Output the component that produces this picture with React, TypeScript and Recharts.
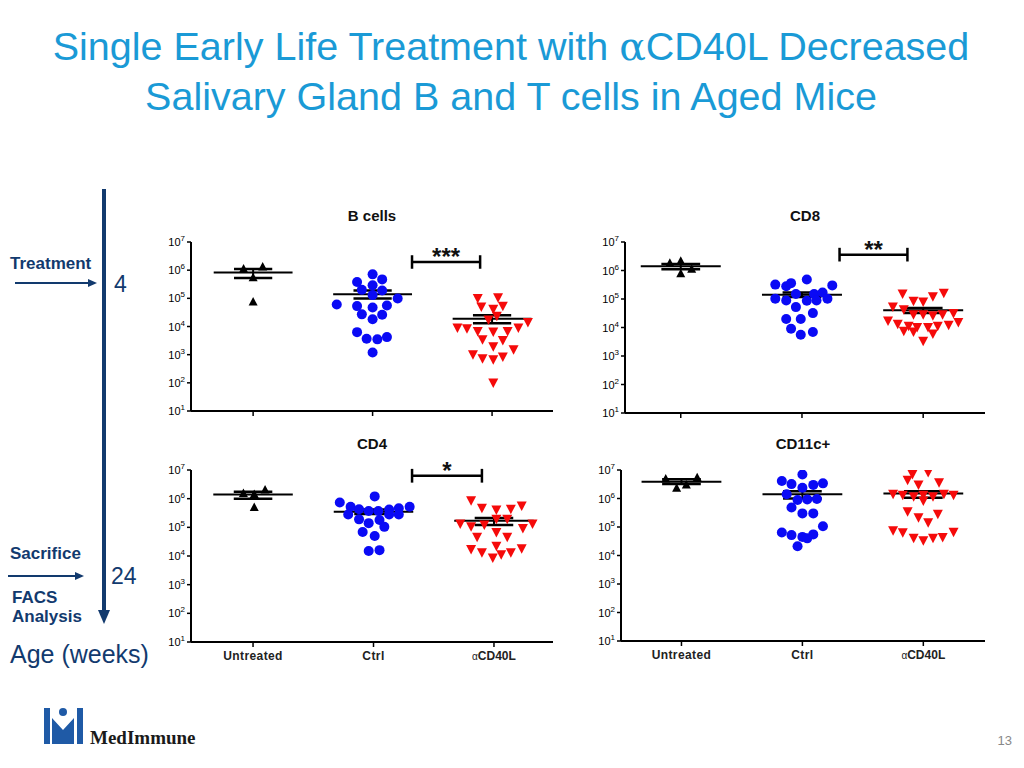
import React from 'react';
import { ScatterChart, Scatter, XAxis, YAxis, ReferenceLine } from 'recharts';

const FONT = 'Arial, "Liberation Sans", Helvetica, sans-serif';
const NAVY = '#123a6e';

const groups = ['Untreated', 'Ctrl', 'αCD40L'];
const yTicks = [10, 100, 1000, 1e4, 1e5, 1e6, 1e7];

// B cells
const bUntVals = [1.1e6, 1.3e6, 5.4e5, 7.4e4];
const bUntJit = [-0.08, 0.08, 0, 0];
const bCtrlVals = [7.1e5, 3.8e5, 2.9e5, 4.7e5, 2.0e5, 1.9e5, 9.8e4, 1.3e5, 6.0e4, 5.3e4, 4.7e4, 5.6e4, 2.7e4, 2.6e4, 1.8e4, 6.3e3, 3.7e3, 3.5e3, 4.2e3, 1.2e3];
const bCtrlJit = [0, -0.13, 0, 0.08, -0.09, 0.08, 0.21, 0, -0.3, -0.13, 0, 0.12, -0.09, 0.08, 0, -0.13, -0.05, 0.04, 0.12, 0];
const bAntiVals = [9.8e4, 1.05e5, 4.9e4, 5.2e4, 4.1e4, 2.3e4, 1.7e4, 8.9e3, 8.4e3, 6.7e3, 6.4e3, 6.7e3, 8.9e3, 1.4e4, 3.4e3, 3.2e3, 1.9e3, 1.5e3, 1.0e3, 720, 660, 830, 98];
const bAntiJit = [-0.12, 0.05, -0.09, 0.09, 0.01, 0.04, -0.03, -0.29, -0.21, -0.12, 0.01, 0.13, 0.22, 0.3, -0.08, 0.09, 0.01, 0.18, -0.16, -0.08, 0.01, 0.09, 0.01];
const bMean = [8.3e5, 1.4e5, 1.9e4];
const bSemLow = [5.3e5, 9.8e4, 1.3e4];
const bSemHigh = [1.1e6, 1.9e5, 2.5e4];

// CD8
const c8UntVals = [1.8e6, 2.1e6, 1.1e6, 7.7e5];
const c8UntJit = [-0.09, 0, 0.09, 0];
const c8CtrlVals = [3.2e5, 2.8e5, 3.6e5, 4.8e5, 3.0e5, 1.03e5, 8.9e4, 1.5e5, 8.7e4, 1.5e5, 1.7e5, 8.9e4, 1.03e5, 5.2e4, 3.2e4, 2.0e4, 2.0e4, 9.1e3, 5.6e3, 7.0e3];
const c8CtrlJit = [-0.22, -0.13, -0.09, 0.04, 0.25, -0.22, -0.13, -0.05, 0.04, 0.1, 0.17, 0.12, 0.21, -0.05, 0.09, -0.13, -0.01, -0.09, -0.01, 0.09];
const c8AntiVals = [1.5e5, 1.6e5, 8.3e4, 7.8e4, 1.2e5, 5.2e4, 4.2e4, 2.8e4, 2.8e4, 2.6e4, 2.8e4, 3.1e4, 1.7e4, 1.3e4, 1.1e4, 1.0e4, 1.0e4, 1.1e4, 1.2e4, 1.5e4, 7.4e3, 7.0e3, 5.9e3, 3.3e3];
const c8AntiJit = [-0.17, 0.17, -0.08, 0, 0.08, -0.25, -0.16, -0.08, 0, 0.08, 0.16, 0.25, -0.29, -0.21, -0.12, -0.05, 0.04, 0.12, 0.21, 0.29, -0.16, -0.08, 0.08, 0];
const c8Mean = [1.4e6, 1.4e5, 4.0e4];
const c8SemLow = [1.1e6, 1.17e5, 3.2e4];
const c8SemHigh = [1.7e6, 1.7e5, 4.8e4];

// CD4
const c4UntVals = [1.5e6, 1.4e6, 2.0e6, 4.9e5];
const c4UntJit = [-0.08, 0.01, 0.1, 0.01];
const c4CtrlVals = [1.2e6, 7.4e5, 5.2e5, 4.3e5, 3.7e5, 3.7e5, 4.2e5, 4.6e5, 5.2e5, 2.8e5, 1.9e5, 1.4e5, 1.8e5, 2.8e5, 2.8e5, 6.9e4, 1.04e5, 5.0e4, 1.5e4, 1.6e4];
const c4CtrlJit = [0.01, -0.28, -0.19, -0.12, -0.04, 0.04, 0.13, 0.21, 0.3, -0.21, -0.12, -0.04, 0.05, 0.13, 0.21, -0.09, 0.09, 0.01, -0.04, 0.05];
const c4AntiVals = [8.5e5, 5.5e5, 4.6e5, 4.0e5, 4.3e5, 1.3e5, 1.04e5, 1.9e5, 1.9e5, 1.2e5, 1.3e5, 9.1e4, 4.5e4, 6.6e4, 4.5e4, 2.2e4, 1.7e4, 1.3e4, 8.5e3, 1.1e4, 1.3e4, 1.8e4];
const c4AntiJit = [-0.19, 0.23, -0.1, 0.02, 0.14, -0.28, -0.19, 0.02, 0.11, -0.08, 0.32, 0.24, -0.14, 0.02, 0.11, 0.02, -0.19, -0.1, -0.01, 0.06, 0.14, 0.23];
const c4Mean = [1.4e6, 3.5e5, 1.7e5];
const c4SemLow = [1.0e6, 2.9e5, 1.2e5];
const c4SemHigh = [1.75e6, 4.2e5, 2.1e5];

// CD11c+
const c11UntVals = [4.8e6, 5.4e6, 2.3e6, 3.0e6];
const c11UntJit = [-0.13, 0.13, -0.04, 0.04];
const c11CtrlVals = [7.0e6, 4.1e6, 3.2e6, 2.4e6, 3.0e6, 3.4e6, 1.4e6, 8.8e5, 9.3e5, 9.6e5, 4.8e5, 3.0e5, 3.0e5, 1.07e5, 6.4e4, 5.2e4, 4.5e4, 5.5e4, 4.0e4, 2.1e4];
const c11CtrlJit = [0, -0.17, -0.09, 0, 0.09, 0.17, -0.13, -0.04, 0.04, 0.12, -0.09, 0, 0.09, 0.17, -0.17, -0.09, 0, 0.09, 0.04, -0.04];
const c11AntiVals = [7.0e6, 8.1e6, 4.4e6, 3.0e6, 3.6e6, 1.4e6, 1.3e6, 1.15e6, 1.3e6, 1.15e6, 1.4e6, 1.3e6, 8.2e5, 3.4e5, 2.1e5, 2.8e5, 1.4e5, 7.4e4, 6.3e4, 4.0e4, 3.3e4, 4.0e4, 4.3e4, 6.5e4];
const c11AntiJit = [-0.09, 0.04, -0.13, -0.04, 0.13, -0.25, -0.17, -0.08, 0, 0.08, 0.17, 0.25, 0, -0.13, -0.04, 0.12, 0.04, -0.25, -0.17, -0.08, 0, 0.08, 0.16, 0.25];
const c11Mean = [3.9e6, 1.4e6, 1.5e6];
const c11SemLow = [3.2e6, 1.0e6, 1.07e6];
const c11SemHigh = [4.7e6, 1.8e6, 1.8e6];

// significance brackets (Ctrl vs aCD40L)
const sigStars = ['***', '**', '*', ''];
const sigLevel = [1.95e6, 3.6e6, 6.3e6, 0];

const pts = (vals: number[], jit: number[], g: number) =>
  vals.map((v, i) => ({ x: g + jit[i], y: v }));

const UpTri = (p: any) => (
  <polygon points={`${p.cx},${p.cy - 5} ${p.cx + 4.5},${p.cy + 3.5} ${p.cx - 4.5},${p.cy + 3.5}`} fill="#000" />
);
const Dot = (p: any) => <circle cx={p.cx} cy={p.cy} r={5} fill="#0a0af5" />;
const DownTri = (p: any) => (
  <polygon points={`${p.cx - 5},${p.cy - 4.5} ${p.cx + 5},${p.cy - 4.5} ${p.cx},${p.cy + 5}`} fill="#f50a0a" />
);

const PowerTick = (props: any) => {
  const { x, y, payload } = props;
  const exp = Math.round(Math.log10(payload.value));
  return (
    <text x={x} y={y + 4} textAnchor="end" fontSize={11} fill="#000" fontFamily={FONT}>
      10<tspan dy={-5} fontSize={8}>{exp}</tspan>
    </text>
  );
};

const GroupTick = (props: any) => {
  const { x, y, payload, show } = props;
  if (!show) return <g />;
  const name = groups[payload.value - 1];
  if (name && name.startsWith('α')) {
    return (
      <text x={x} y={y + 11} textAnchor="middle" fontSize={12} fontWeight="bold" fill="#222" fontFamily={FONT}>
        <tspan fontSize={10} fontWeight="normal">α</tspan>{name.slice(1)}
      </text>
    );
  }
  return (
    <text x={x} y={y + 11} textAnchor="middle" fontSize={12} fontWeight="bold" fill="#222" fontFamily={FONT} letterSpacing={0.4}>
      {name}
    </text>
  );
};

type PanelCfg = {
  title: string;
  left: number;
  top: number;
  width: number;
  marginTop: number;
  plotHeight: number;
  xDomain: [number, number];
  sets: { x: number; y: number }[][];
  mean: number[];
  low: number[];
  high: number[];
  stars: string;
  sigY: number;
  sigX: [number, number];
  showLabels: boolean;
};

const panels: PanelCfg[] = [
  {
    title: 'B cells', left: 140, top: 200, width: 420, marginTop: 42, plotHeight: 169,
    xDomain: [0.48, 3.51],
    sets: [pts(bUntVals, bUntJit, 1), pts(bCtrlVals, bCtrlJit, 2), pts(bAntiVals, bAntiJit, 3)],
    mean: bMean, low: bSemLow, high: bSemHigh, stars: sigStars[0], sigY: sigLevel[0], sigX: [2.33, 2.9], showLabels: false,
  },
  {
    title: 'CD8', left: 574, top: 200, width: 418, marginTop: 42, plotHeight: 171,
    xDomain: [0.54, 3.51],
    sets: [pts(c8UntVals, c8UntJit, 1), pts(c8CtrlVals, c8CtrlJit, 2), pts(c8AntiVals, c8AntiJit, 3)],
    mean: c8Mean, low: c8SemLow, high: c8SemHigh, stars: sigStars[1], sigY: sigLevel[1], sigX: [2.31, 2.87], showLabels: false,
  },
  {
    title: 'CD4', left: 140, top: 430, width: 420, marginTop: 40, plotHeight: 172,
    xDomain: [0.485, 3.49],
    sets: [pts(c4UntVals, c4UntJit, 1), pts(c4CtrlVals, c4CtrlJit, 2), pts(c4AntiVals, c4AntiJit, 3)],
    mean: c4Mean, low: c4SemLow, high: c4SemHigh, stars: sigStars[2], sigY: sigLevel[2], sigX: [2.32, 2.9], showLabels: true,
  },
  {
    title: 'CD11c+', left: 570, top: 430, width: 422, marginTop: 40, plotHeight: 171,
    xDomain: [0.5, 3.51],
    sets: [pts(c11UntVals, c11UntJit, 1), pts(c11CtrlVals, c11CtrlJit, 2), pts(c11AntiVals, c11AntiJit, 3)],
    mean: c11Mean, low: c11SemLow, high: c11SemHigh, stars: sigStars[3], sigY: sigLevel[3], sigX: [2.32, 2.9], showLabels: true,
  },
];

const Y_AXIS_W = 51;
const X_AXIS_H = 25;
const CHART_H = 245;
const MEAN_HALF = 0.33;
const SEM_HALF = 0.16;
const CAP = Math.pow(10, 0.24);

function Panel({ cfg }: { cfg: PanelCfg }) {
  const shapes = [UpTri, Dot, DownTri];
  const lines: React.ReactNode[] = [];
  cfg.mean.forEach((m, i) => {
    const c = i + 1;
    lines.push(
      <ReferenceLine key={`m${i}`} segment={[{ x: c - MEAN_HALF, y: m }, { x: c + MEAN_HALF, y: m }]} stroke="#000" strokeWidth={2} ifOverflow="visible" />,
      <ReferenceLine key={`l${i}`} segment={[{ x: c - SEM_HALF, y: cfg.low[i] }, { x: c + SEM_HALF, y: cfg.low[i] }]} stroke="#000" strokeWidth={2.5} ifOverflow="visible" />,
      <ReferenceLine key={`h${i}`} segment={[{ x: c - SEM_HALF, y: cfg.high[i] }, { x: c + SEM_HALF, y: cfg.high[i] }]} stroke="#000" strokeWidth={2.5} ifOverflow="visible" />,
      <ReferenceLine key={`v${i}`} segment={[{ x: c, y: cfg.low[i] }, { x: c, y: cfg.high[i] }]} stroke="#000" strokeWidth={2} ifOverflow="visible" />
    );
  });
  if (cfg.stars) {
    const [x1, x2] = cfg.sigX;
    lines.push(
      <ReferenceLine key="sb" segment={[{ x: x1, y: cfg.sigY }, { x: x2, y: cfg.sigY }]} stroke="#000" strokeWidth={2.5} ifOverflow="visible"
        label={{ value: cfg.stars, position: 'top', offset: -3, fontSize: 24, fontWeight: 'bold', fill: '#111', fontFamily: FONT }} />,
      <ReferenceLine key="s1" segment={[{ x: x1, y: cfg.sigY / CAP }, { x: x1, y: cfg.sigY * CAP }]} stroke="#000" strokeWidth={2.5} ifOverflow="visible" />,
      <ReferenceLine key="s2" segment={[{ x: x2, y: cfg.sigY / CAP }, { x: x2, y: cfg.sigY * CAP }]} stroke="#000" strokeWidth={2.5} ifOverflow="visible" />
    );
  }
  const bottom = CHART_H - cfg.marginTop - cfg.plotHeight - X_AXIS_H;
  return (
    <div style={{ position: 'absolute', left: cfg.left, top: cfg.top }}>
      <ScatterChart width={cfg.width} height={CHART_H} margin={{ top: cfg.marginTop, right: 7, left: 0, bottom }}>
        <XAxis
          type="number"
          dataKey="x"
          domain={cfg.xDomain}
          ticks={[1, 2, 3]}
          interval={0}
          allowDataOverflow
          height={X_AXIS_H}
          tickSize={5}
          axisLine={{ stroke: '#000', strokeWidth: 2 }}
          tickLine={{ stroke: '#000', strokeWidth: 1.5 }}
          tick={<GroupTick show={cfg.showLabels} />}
        />
        <YAxis
          type="number"
          dataKey="y"
          scale="log"
          domain={[10, 1e7]}
          ticks={yTicks}
          interval={0}
          allowDataOverflow
          width={Y_AXIS_W}
          tickSize={4}
          axisLine={{ stroke: '#000', strokeWidth: 2 }}
          tickLine={{ stroke: '#000', strokeWidth: 1.5 }}
          tick={<PowerTick />}
        />
        {cfg.sets.map((data, i) => (
          <Scatter key={i} data={data} shape={shapes[i]} isAnimationActive={false} />
        ))}
        {lines}
      </ScatterChart>
    </div>
  );
}

export default function App() {
  return (
    <div style={{ position: 'absolute', left: 0, top: 0, width: 1024, height: 768, background: '#fff', overflow: 'hidden', fontFamily: FONT }}>
      <svg width={1024} height={768} style={{ position: 'absolute', left: 0, top: 0 }}>
        <text x={511} y={60} textAnchor="middle" fontSize={39.5} fill="#1a9ad6" fontFamily={FONT}>
          Single Early Life Treatment with <tspan fontFamily="'DejaVu Serif', 'Liberation Serif', serif">α</tspan>CD40L Decreased
        </text>
        <text x={511} y={110} textAnchor="middle" fontSize={39.5} fill="#1a9ad6" fontFamily={FONT}>
          Salivary Gland B and T cells in Aged Mice
        </text>

        {panels.map((p) => (
          <text key={p.title} x={p.left + Y_AXIS_W + (p.width - Y_AXIS_W - 7) / 2} y={p.top + (p.marginTop > 41 ? 21 : 19)} textAnchor="middle" fontSize={15} fontWeight="bold" fill="#111" fontFamily={FONT}>
            {p.title}
          </text>
        ))}

        {/* timeline */}
        <line x1={104} y1={189} x2={104} y2={612} stroke={NAVY} strokeWidth={4} />
        <polygon points="98,610 110,610 104,624" fill={NAVY} />
        <text x={10} y={269} fontSize={17} fontWeight="bold" fill={NAVY} fontFamily={FONT}>Treatment</text>
        <line x1={15} y1={283} x2={90} y2={283} stroke={NAVY} strokeWidth={2} />
        <polygon points="88,279 97,283 88,287" fill={NAVY} />
        <text x={114} y={292} fontSize={23} fill={NAVY} fontFamily={FONT}>4</text>
        <text x={10} y={559} fontSize={17} fontWeight="bold" fill={NAVY} fontFamily={FONT}>Sacrifice</text>
        <line x1={8} y1={576} x2={77} y2={576} stroke={NAVY} strokeWidth={2} />
        <polygon points="75,572 84,576 75,580" fill={NAVY} />
        <text x={111} y={584} fontSize={23} fill={NAVY} fontFamily={FONT}>24</text>
        <text x={12} y={603} fontSize={17} fontWeight="bold" fill={NAVY} fontFamily={FONT}>FACS</text>
        <text x={12} y={622} fontSize={17} fontWeight="bold" fill={NAVY} fontFamily={FONT}>Analysis</text>
        <text x={10} y={663} fontSize={25} fill={NAVY} fontFamily={FONT}>Age (weeks)</text>

        {/* logo */}
        <rect x={44} y={708} width={6} height={36} fill="#1f5aa6" />
        <rect x={77} y={708} width={6} height={36} fill="#1f5aa6" />
        <circle cx={63} cy={712} r={4} fill="#1f5aa6" />
        <polygon points="52,718 63,730 74,718 74,744 52,744" fill="#1f5aa6" />
        <text x={90} y={744} fontSize={19} fontWeight="bold" fill="#1a1a1a" fontFamily="'Liberation Serif', 'DejaVu Serif', serif">MedImmune</text>

        <text x={1012} y={745} textAnchor="end" fontSize={13} fill="#888" fontFamily={FONT}>13</text>
      </svg>
      {panels.map((p) => (
        <Panel key={p.title} cfg={p} />
      ))}
    </div>
  );
}
